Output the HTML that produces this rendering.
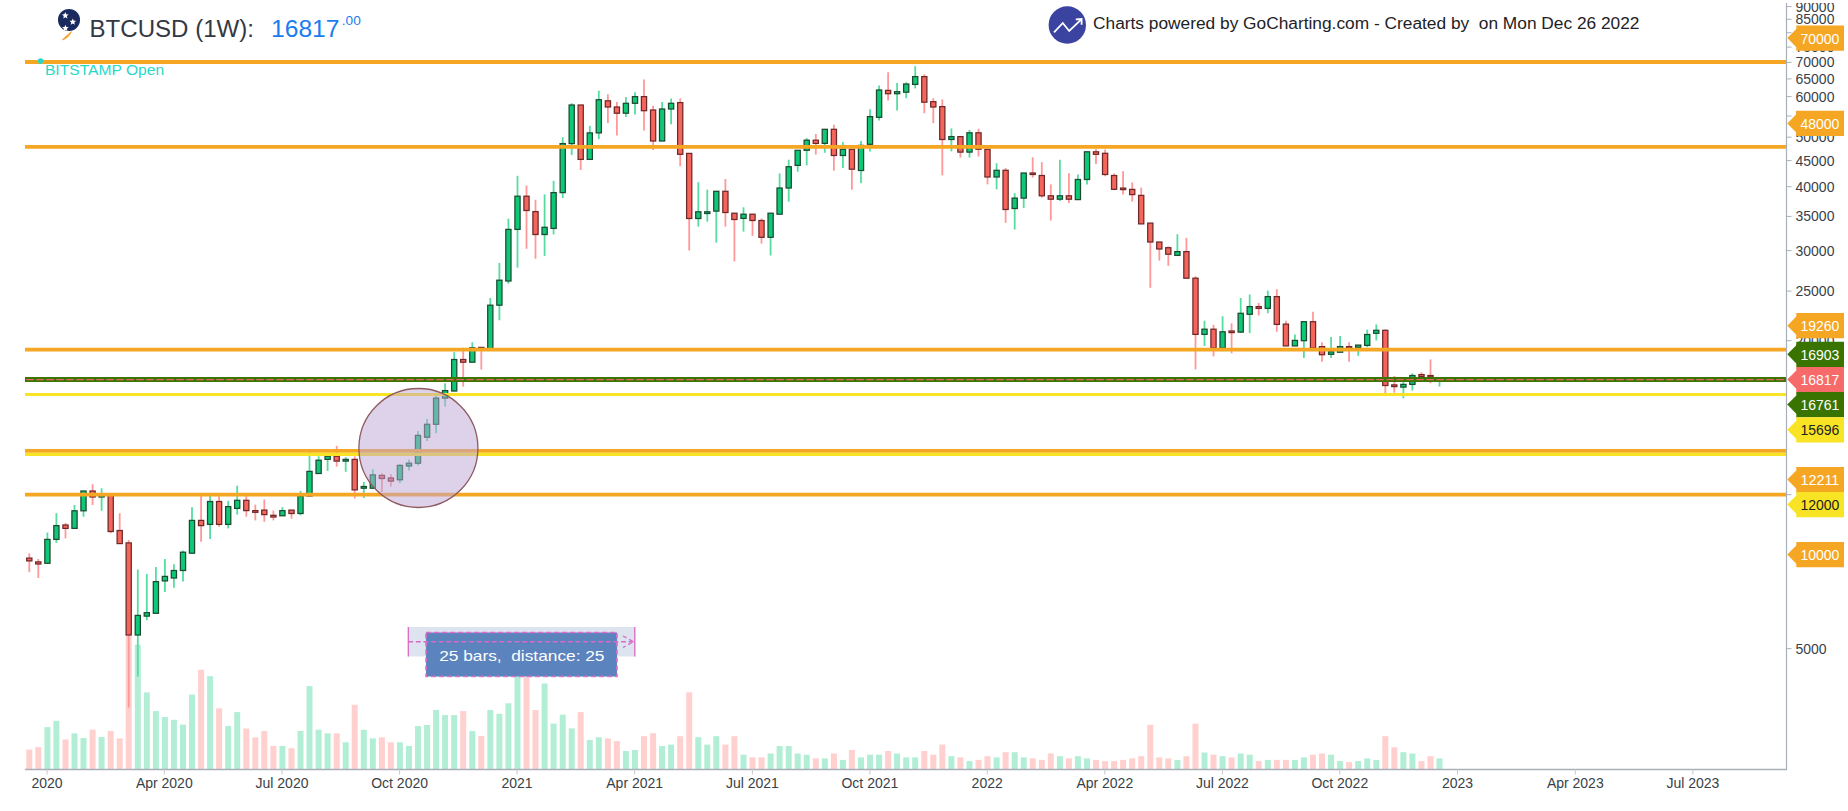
<!DOCTYPE html>
<html><head><meta charset="utf-8"><title>BTCUSD (1W) chart</title>
<style>
html,body{margin:0;padding:0;background:#ffffff;}
body{width:1848px;height:811px;overflow:hidden;}
svg{display:block;}
text{font-family:"Liberation Sans", Arial, sans-serif;white-space:pre;}
</style></head><body>
<svg width="1848" height="811" viewBox="0 0 1848 811">
<rect x="0" y="0" width="1848" height="811" fill="#ffffff"/>

<g id="vol">
<rect x="26.3" y="749.6" width="6" height="19.4" fill="#ffd0ce"/>
<rect x="35.3" y="747.1" width="6" height="21.9" fill="#ffd0ce"/>
<rect x="44.4" y="727.1" width="6" height="41.9" fill="#b2eed5"/>
<rect x="53.4" y="720.8" width="6" height="48.2" fill="#b2eed5"/>
<rect x="62.5" y="739.5" width="6" height="29.5" fill="#ffd0ce"/>
<rect x="71.5" y="733.4" width="6" height="35.6" fill="#b2eed5"/>
<rect x="80.5" y="738.0" width="6" height="31.0" fill="#b2eed5"/>
<rect x="89.6" y="729.6" width="6" height="39.4" fill="#ffd0ce"/>
<rect x="98.6" y="737.0" width="6" height="32.0" fill="#b2eed5"/>
<rect x="107.7" y="731.0" width="6" height="38.0" fill="#ffd0ce"/>
<rect x="116.7" y="738.4" width="6" height="30.6" fill="#ffd0ce"/>
<rect x="125.7" y="634.0" width="6" height="135.0" fill="#ffd0ce"/>
<rect x="134.8" y="644.7" width="6" height="124.3" fill="#b2eed5"/>
<rect x="143.8" y="692.4" width="6" height="76.6" fill="#b2eed5"/>
<rect x="152.9" y="711.1" width="6" height="57.9" fill="#b2eed5"/>
<rect x="161.9" y="717.1" width="6" height="51.9" fill="#b2eed5"/>
<rect x="170.9" y="719.8" width="6" height="49.2" fill="#b2eed5"/>
<rect x="180.0" y="724.6" width="6" height="44.4" fill="#b2eed5"/>
<rect x="189.0" y="694.6" width="6" height="74.4" fill="#b2eed5"/>
<rect x="198.1" y="669.7" width="6" height="99.3" fill="#ffd0ce"/>
<rect x="207.1" y="676.2" width="6" height="92.8" fill="#b2eed5"/>
<rect x="216.1" y="708.4" width="6" height="60.6" fill="#ffd0ce"/>
<rect x="225.2" y="726.1" width="6" height="42.9" fill="#b2eed5"/>
<rect x="234.2" y="712.1" width="6" height="56.9" fill="#b2eed5"/>
<rect x="243.3" y="728.5" width="6" height="40.5" fill="#ffd0ce"/>
<rect x="252.3" y="737.4" width="6" height="31.6" fill="#ffd0ce"/>
<rect x="261.3" y="731.0" width="6" height="38.0" fill="#ffd0ce"/>
<rect x="270.4" y="745.9" width="6" height="23.1" fill="#ffd0ce"/>
<rect x="279.4" y="745.9" width="6" height="23.1" fill="#b2eed5"/>
<rect x="288.5" y="748.2" width="6" height="20.8" fill="#ffd0ce"/>
<rect x="297.5" y="731.0" width="6" height="38.0" fill="#b2eed5"/>
<rect x="306.5" y="686.1" width="6" height="82.9" fill="#b2eed5"/>
<rect x="315.6" y="729.7" width="6" height="39.3" fill="#b2eed5"/>
<rect x="324.6" y="733.4" width="6" height="35.6" fill="#b2eed5"/>
<rect x="333.7" y="733.4" width="6" height="35.6" fill="#ffd0ce"/>
<rect x="342.7" y="742.3" width="6" height="26.7" fill="#b2eed5"/>
<rect x="351.7" y="704.8" width="6" height="64.2" fill="#ffd0ce"/>
<rect x="360.8" y="729.7" width="6" height="39.3" fill="#b2eed5"/>
<rect x="369.8" y="738.4" width="6" height="30.6" fill="#b2eed5"/>
<rect x="378.9" y="737.4" width="6" height="31.6" fill="#ffd0ce"/>
<rect x="387.9" y="742.3" width="6" height="26.7" fill="#ffd0ce"/>
<rect x="396.9" y="742.3" width="6" height="26.7" fill="#b2eed5"/>
<rect x="406.0" y="745.9" width="6" height="23.1" fill="#b2eed5"/>
<rect x="415.0" y="726.1" width="6" height="42.9" fill="#b2eed5"/>
<rect x="424.1" y="725.0" width="6" height="44.0" fill="#b2eed5"/>
<rect x="433.1" y="710.0" width="6" height="59.0" fill="#b2eed5"/>
<rect x="442.1" y="715.1" width="6" height="53.9" fill="#b2eed5"/>
<rect x="451.2" y="715.1" width="6" height="53.9" fill="#b2eed5"/>
<rect x="460.2" y="711.1" width="6" height="57.9" fill="#ffd0ce"/>
<rect x="469.3" y="731.1" width="6" height="37.9" fill="#b2eed5"/>
<rect x="478.3" y="736.0" width="6" height="33.0" fill="#ffd0ce"/>
<rect x="487.3" y="710.0" width="6" height="59.0" fill="#b2eed5"/>
<rect x="496.4" y="713.7" width="6" height="55.3" fill="#b2eed5"/>
<rect x="505.4" y="703.3" width="6" height="65.7" fill="#b2eed5"/>
<rect x="514.5" y="672.0" width="6" height="97.0" fill="#b2eed5"/>
<rect x="523.5" y="672.0" width="6" height="97.0" fill="#ffd0ce"/>
<rect x="532.5" y="710.0" width="6" height="59.0" fill="#ffd0ce"/>
<rect x="541.6" y="683.5" width="6" height="85.5" fill="#b2eed5"/>
<rect x="550.6" y="723.6" width="6" height="45.4" fill="#b2eed5"/>
<rect x="559.7" y="714.7" width="6" height="54.3" fill="#b2eed5"/>
<rect x="568.7" y="728.4" width="6" height="40.6" fill="#b2eed5"/>
<rect x="577.7" y="712.1" width="6" height="56.9" fill="#ffd0ce"/>
<rect x="586.8" y="739.9" width="6" height="29.1" fill="#b2eed5"/>
<rect x="595.8" y="737.2" width="6" height="31.8" fill="#b2eed5"/>
<rect x="604.9" y="738.4" width="6" height="30.6" fill="#ffd0ce"/>
<rect x="613.9" y="741.1" width="6" height="27.9" fill="#ffd0ce"/>
<rect x="622.9" y="751.0" width="6" height="18.0" fill="#b2eed5"/>
<rect x="632.0" y="750.0" width="6" height="19.0" fill="#b2eed5"/>
<rect x="641.0" y="736.2" width="6" height="32.8" fill="#ffd0ce"/>
<rect x="650.1" y="733.2" width="6" height="35.8" fill="#ffd0ce"/>
<rect x="659.1" y="746.1" width="6" height="22.9" fill="#b2eed5"/>
<rect x="668.1" y="744.6" width="6" height="24.4" fill="#b2eed5"/>
<rect x="677.2" y="736.2" width="6" height="32.8" fill="#ffd0ce"/>
<rect x="686.2" y="692.3" width="6" height="76.7" fill="#ffd0ce"/>
<rect x="695.3" y="737.2" width="6" height="31.8" fill="#b2eed5"/>
<rect x="704.3" y="744.6" width="6" height="24.4" fill="#b2eed5"/>
<rect x="713.3" y="736.2" width="6" height="32.8" fill="#b2eed5"/>
<rect x="722.4" y="744.6" width="6" height="24.4" fill="#ffd0ce"/>
<rect x="731.4" y="736.2" width="6" height="32.8" fill="#ffd0ce"/>
<rect x="740.5" y="754.7" width="6" height="14.3" fill="#b2eed5"/>
<rect x="749.5" y="757.4" width="6" height="11.6" fill="#ffd0ce"/>
<rect x="758.5" y="757.4" width="6" height="11.6" fill="#ffd0ce"/>
<rect x="767.6" y="753.5" width="6" height="15.5" fill="#b2eed5"/>
<rect x="776.6" y="746.1" width="6" height="22.9" fill="#b2eed5"/>
<rect x="785.7" y="746.1" width="6" height="22.9" fill="#b2eed5"/>
<rect x="794.7" y="753.5" width="6" height="15.5" fill="#b2eed5"/>
<rect x="803.7" y="754.7" width="6" height="14.3" fill="#b2eed5"/>
<rect x="812.8" y="758.4" width="6" height="10.6" fill="#ffd0ce"/>
<rect x="821.8" y="758.4" width="6" height="10.6" fill="#b2eed5"/>
<rect x="830.9" y="753.5" width="6" height="15.5" fill="#ffd0ce"/>
<rect x="839.9" y="759.9" width="6" height="9.1" fill="#b2eed5"/>
<rect x="848.9" y="750.0" width="6" height="19.0" fill="#ffd0ce"/>
<rect x="858.0" y="757.4" width="6" height="11.6" fill="#b2eed5"/>
<rect x="867.0" y="754.7" width="6" height="14.3" fill="#b2eed5"/>
<rect x="876.1" y="754.7" width="6" height="14.3" fill="#b2eed5"/>
<rect x="885.1" y="751.0" width="6" height="18.0" fill="#ffd0ce"/>
<rect x="894.1" y="753.5" width="6" height="15.5" fill="#b2eed5"/>
<rect x="903.2" y="757.4" width="6" height="11.6" fill="#b2eed5"/>
<rect x="912.2" y="757.4" width="6" height="11.6" fill="#b2eed5"/>
<rect x="921.3" y="751.0" width="6" height="18.0" fill="#ffd0ce"/>
<rect x="930.3" y="754.7" width="6" height="14.3" fill="#ffd0ce"/>
<rect x="939.3" y="744.6" width="6" height="24.4" fill="#ffd0ce"/>
<rect x="948.4" y="756.2" width="6" height="12.8" fill="#b2eed5"/>
<rect x="957.4" y="757.4" width="6" height="11.6" fill="#ffd0ce"/>
<rect x="966.5" y="761.1" width="6" height="7.9" fill="#b2eed5"/>
<rect x="975.5" y="759.9" width="6" height="9.1" fill="#ffd0ce"/>
<rect x="984.5" y="756.2" width="6" height="12.8" fill="#ffd0ce"/>
<rect x="993.6" y="757.4" width="6" height="11.6" fill="#b2eed5"/>
<rect x="1002.6" y="752.2" width="6" height="16.8" fill="#ffd0ce"/>
<rect x="1011.7" y="752.2" width="6" height="16.8" fill="#b2eed5"/>
<rect x="1020.7" y="757.4" width="6" height="11.6" fill="#b2eed5"/>
<rect x="1029.7" y="758.4" width="6" height="10.6" fill="#ffd0ce"/>
<rect x="1038.8" y="759.9" width="6" height="9.1" fill="#ffd0ce"/>
<rect x="1047.8" y="753.5" width="6" height="15.5" fill="#ffd0ce"/>
<rect x="1056.9" y="756.2" width="6" height="12.8" fill="#b2eed5"/>
<rect x="1065.9" y="758.4" width="6" height="10.6" fill="#ffd0ce"/>
<rect x="1074.9" y="756.2" width="6" height="12.8" fill="#b2eed5"/>
<rect x="1084.0" y="758.4" width="6" height="10.6" fill="#b2eed5"/>
<rect x="1093.0" y="759.9" width="6" height="9.1" fill="#ffd0ce"/>
<rect x="1102.1" y="761.1" width="6" height="7.9" fill="#ffd0ce"/>
<rect x="1111.1" y="761.1" width="6" height="7.9" fill="#ffd0ce"/>
<rect x="1120.1" y="759.9" width="6" height="9.1" fill="#ffd0ce"/>
<rect x="1129.2" y="758.4" width="6" height="10.6" fill="#ffd0ce"/>
<rect x="1138.2" y="756.2" width="6" height="12.8" fill="#ffd0ce"/>
<rect x="1147.3" y="724.8" width="6" height="44.2" fill="#ffd0ce"/>
<rect x="1156.3" y="757.4" width="6" height="11.6" fill="#ffd0ce"/>
<rect x="1165.3" y="758.4" width="6" height="10.6" fill="#ffd0ce"/>
<rect x="1174.4" y="759.9" width="6" height="9.1" fill="#b2eed5"/>
<rect x="1183.4" y="756.2" width="6" height="12.8" fill="#ffd0ce"/>
<rect x="1192.5" y="723.6" width="6" height="45.4" fill="#ffd0ce"/>
<rect x="1201.5" y="752.5" width="6" height="16.5" fill="#b2eed5"/>
<rect x="1210.5" y="754.7" width="6" height="14.3" fill="#ffd0ce"/>
<rect x="1219.6" y="756.2" width="6" height="12.8" fill="#b2eed5"/>
<rect x="1228.6" y="757.4" width="6" height="11.6" fill="#ffd0ce"/>
<rect x="1237.7" y="753.5" width="6" height="15.5" fill="#b2eed5"/>
<rect x="1246.7" y="754.7" width="6" height="14.3" fill="#b2eed5"/>
<rect x="1255.7" y="761.1" width="6" height="7.9" fill="#ffd0ce"/>
<rect x="1264.8" y="759.9" width="6" height="9.1" fill="#b2eed5"/>
<rect x="1273.8" y="759.9" width="6" height="9.1" fill="#ffd0ce"/>
<rect x="1282.9" y="759.9" width="6" height="9.1" fill="#ffd0ce"/>
<rect x="1291.9" y="759.9" width="6" height="9.1" fill="#b2eed5"/>
<rect x="1300.9" y="757.4" width="6" height="11.6" fill="#b2eed5"/>
<rect x="1310.0" y="754.7" width="6" height="14.3" fill="#ffd0ce"/>
<rect x="1319.0" y="753.5" width="6" height="15.5" fill="#ffd0ce"/>
<rect x="1328.1" y="754.7" width="6" height="14.3" fill="#b2eed5"/>
<rect x="1337.1" y="761.1" width="6" height="7.9" fill="#b2eed5"/>
<rect x="1346.1" y="762.1" width="6" height="6.9" fill="#ffd0ce"/>
<rect x="1355.2" y="761.1" width="6" height="7.9" fill="#b2eed5"/>
<rect x="1364.2" y="758.4" width="6" height="10.6" fill="#b2eed5"/>
<rect x="1373.3" y="759.9" width="6" height="9.1" fill="#b2eed5"/>
<rect x="1382.3" y="736.2" width="6" height="32.8" fill="#ffd0ce"/>
<rect x="1391.3" y="747.3" width="6" height="21.7" fill="#ffd0ce"/>
<rect x="1400.4" y="752.2" width="6" height="16.8" fill="#b2eed5"/>
<rect x="1409.4" y="753.5" width="6" height="15.5" fill="#b2eed5"/>
<rect x="1418.5" y="761.1" width="6" height="7.9" fill="#ffd0ce"/>
<rect x="1427.5" y="756.2" width="6" height="12.8" fill="#ffd0ce"/>
<rect x="1436.5" y="758.4" width="6" height="10.6" fill="#b2eed5"/>
</g>
<g id="candles">
<line x1="29.3" y1="553.3" x2="29.3" y2="572.2" stroke="#ff9898" stroke-width="1.8"/>
<rect x="26.7" y="558.1" width="5.2" height="2.8" fill="#f5655b" stroke="#6e2828" stroke-width="1.25"/>
<line x1="38.3" y1="559.0" x2="38.3" y2="578.0" stroke="#ff9898" stroke-width="1.8"/>
<rect x="35.7" y="561.9" width="5.2" height="2.1" fill="#f5655b" stroke="#6e2828" stroke-width="1.25"/>
<line x1="47.4" y1="532.5" x2="47.4" y2="563.3" stroke="#55dda0" stroke-width="1.8"/>
<rect x="44.8" y="539.4" width="5.2" height="23.9" fill="#0cc877" stroke="#1b4a30" stroke-width="1.25"/>
<line x1="56.4" y1="513.2" x2="56.4" y2="542.9" stroke="#55dda0" stroke-width="1.8"/>
<rect x="53.8" y="525.6" width="5.2" height="13.8" fill="#0cc877" stroke="#1b4a30" stroke-width="1.25"/>
<line x1="65.5" y1="522.9" x2="65.5" y2="538.4" stroke="#ff9898" stroke-width="1.8"/>
<rect x="62.9" y="525.0" width="5.2" height="3.4" fill="#f5655b" stroke="#6e2828" stroke-width="1.25"/>
<line x1="74.5" y1="505.0" x2="74.5" y2="528.4" stroke="#55dda0" stroke-width="1.8"/>
<rect x="71.9" y="510.8" width="5.2" height="17.6" fill="#0cc877" stroke="#1b4a30" stroke-width="1.25"/>
<line x1="83.5" y1="491.0" x2="83.5" y2="516.7" stroke="#55dda0" stroke-width="1.8"/>
<rect x="80.9" y="491.0" width="5.2" height="19.8" fill="#0cc877" stroke="#1b4a30" stroke-width="1.25"/>
<line x1="92.6" y1="484.2" x2="92.6" y2="505.0" stroke="#ff9898" stroke-width="1.8"/>
<rect x="90.0" y="491.0" width="5.2" height="6.0" fill="#f5655b" stroke="#6e2828" stroke-width="1.25"/>
<line x1="101.6" y1="488.3" x2="101.6" y2="510.8" stroke="#55dda0" stroke-width="1.8"/>
<rect x="99.0" y="495.0" width="5.2" height="2.0" fill="#0cc877" stroke="#1b4a30" stroke-width="1.25"/>
<line x1="110.7" y1="495.0" x2="110.7" y2="533.2" stroke="#ff9898" stroke-width="1.8"/>
<rect x="108.1" y="495.0" width="5.2" height="36.5" fill="#f5655b" stroke="#6e2828" stroke-width="1.25"/>
<line x1="119.7" y1="513.2" x2="119.7" y2="543.6" stroke="#ff9898" stroke-width="1.8"/>
<rect x="117.1" y="530.5" width="5.2" height="13.1" fill="#f5655b" stroke="#6e2828" stroke-width="1.25"/>
<line x1="128.7" y1="540.0" x2="128.7" y2="707.6" stroke="#ff9898" stroke-width="1.8"/>
<rect x="126.1" y="542.9" width="5.2" height="92.1" fill="#f5655b" stroke="#6e2828" stroke-width="1.25"/>
<line x1="137.8" y1="569.5" x2="137.8" y2="676.5" stroke="#55dda0" stroke-width="1.8"/>
<rect x="135.2" y="615.4" width="5.2" height="19.6" fill="#0cc877" stroke="#1b4a30" stroke-width="1.25"/>
<line x1="146.8" y1="574.0" x2="146.8" y2="620.2" stroke="#55dda0" stroke-width="1.8"/>
<rect x="144.2" y="612.7" width="5.2" height="3.4" fill="#0cc877" stroke="#1b4a30" stroke-width="1.25"/>
<line x1="155.9" y1="567.0" x2="155.9" y2="613.3" stroke="#55dda0" stroke-width="1.8"/>
<rect x="153.3" y="581.6" width="5.2" height="31.7" fill="#0cc877" stroke="#1b4a30" stroke-width="1.25"/>
<line x1="164.9" y1="559.0" x2="164.9" y2="592.0" stroke="#55dda0" stroke-width="1.8"/>
<rect x="162.3" y="576.4" width="5.2" height="4.5" fill="#0cc877" stroke="#1b4a30" stroke-width="1.25"/>
<line x1="173.9" y1="564.3" x2="173.9" y2="587.8" stroke="#55dda0" stroke-width="1.8"/>
<rect x="171.3" y="570.5" width="5.2" height="7.5" fill="#0cc877" stroke="#1b4a30" stroke-width="1.25"/>
<line x1="183.0" y1="550.5" x2="183.0" y2="581.6" stroke="#55dda0" stroke-width="1.8"/>
<rect x="180.4" y="552.2" width="5.2" height="18.3" fill="#0cc877" stroke="#1b4a30" stroke-width="1.25"/>
<line x1="192.0" y1="507.2" x2="192.0" y2="553.8" stroke="#55dda0" stroke-width="1.8"/>
<rect x="189.4" y="520.4" width="5.2" height="32.8" fill="#0cc877" stroke="#1b4a30" stroke-width="1.25"/>
<line x1="201.1" y1="496.0" x2="201.1" y2="541.7" stroke="#ff9898" stroke-width="1.8"/>
<rect x="198.5" y="520.4" width="5.2" height="5.2" fill="#f5655b" stroke="#6e2828" stroke-width="1.25"/>
<line x1="210.1" y1="496.0" x2="210.1" y2="539.0" stroke="#55dda0" stroke-width="1.8"/>
<rect x="207.5" y="501.5" width="5.2" height="22.9" fill="#0cc877" stroke="#1b4a30" stroke-width="1.25"/>
<line x1="219.1" y1="496.0" x2="219.1" y2="526.7" stroke="#ff9898" stroke-width="1.8"/>
<rect x="216.5" y="501.5" width="5.2" height="22.9" fill="#f5655b" stroke="#6e2828" stroke-width="1.25"/>
<line x1="228.2" y1="500.8" x2="228.2" y2="528.4" stroke="#55dda0" stroke-width="1.8"/>
<rect x="225.6" y="506.6" width="5.2" height="17.8" fill="#0cc877" stroke="#1b4a30" stroke-width="1.25"/>
<line x1="237.2" y1="485.6" x2="237.2" y2="514.6" stroke="#55dda0" stroke-width="1.8"/>
<rect x="234.6" y="500.3" width="5.2" height="8.1" fill="#0cc877" stroke="#1b4a30" stroke-width="1.25"/>
<line x1="246.3" y1="496.0" x2="246.3" y2="516.7" stroke="#ff9898" stroke-width="1.8"/>
<rect x="243.7" y="500.3" width="5.2" height="10.3" fill="#f5655b" stroke="#6e2828" stroke-width="1.25"/>
<line x1="255.3" y1="504.6" x2="255.3" y2="520.4" stroke="#ff9898" stroke-width="1.8"/>
<rect x="252.7" y="510.6" width="5.2" height="1.7" fill="#f5655b" stroke="#6e2828" stroke-width="1.25"/>
<line x1="264.3" y1="499.4" x2="264.3" y2="521.8" stroke="#ff9898" stroke-width="1.8"/>
<rect x="261.7" y="510.1" width="5.2" height="4.5" fill="#f5655b" stroke="#6e2828" stroke-width="1.25"/>
<line x1="273.4" y1="510.6" x2="273.4" y2="520.4" stroke="#ff9898" stroke-width="1.8"/>
<rect x="270.8" y="515.3" width="5.2" height="1.7" fill="#f5655b" stroke="#6e2828" stroke-width="1.25"/>
<line x1="282.4" y1="507.2" x2="282.4" y2="515.8" stroke="#55dda0" stroke-width="1.8"/>
<rect x="279.8" y="510.6" width="5.2" height="5.2" fill="#0cc877" stroke="#1b4a30" stroke-width="1.25"/>
<line x1="291.5" y1="510.1" x2="291.5" y2="518.7" stroke="#ff9898" stroke-width="1.8"/>
<rect x="288.9" y="510.1" width="5.2" height="3.4" fill="#f5655b" stroke="#6e2828" stroke-width="1.25"/>
<line x1="300.5" y1="490.8" x2="300.5" y2="515.3" stroke="#55dda0" stroke-width="1.8"/>
<rect x="297.9" y="496.0" width="5.2" height="17.5" fill="#0cc877" stroke="#1b4a30" stroke-width="1.25"/>
<line x1="309.5" y1="452.0" x2="309.5" y2="496.0" stroke="#55dda0" stroke-width="1.8"/>
<rect x="306.9" y="471.4" width="5.2" height="24.6" fill="#0cc877" stroke="#1b4a30" stroke-width="1.25"/>
<line x1="318.6" y1="456.2" x2="318.6" y2="473.5" stroke="#55dda0" stroke-width="1.8"/>
<rect x="316.0" y="460.2" width="5.2" height="13.3" fill="#0cc877" stroke="#1b4a30" stroke-width="1.25"/>
<line x1="327.6" y1="452.8" x2="327.6" y2="470.9" stroke="#55dda0" stroke-width="1.8"/>
<rect x="325.0" y="456.2" width="5.2" height="3.2" fill="#0cc877" stroke="#1b4a30" stroke-width="1.25"/>
<line x1="336.7" y1="445.9" x2="336.7" y2="466.6" stroke="#ff9898" stroke-width="1.8"/>
<rect x="334.1" y="456.2" width="5.2" height="4.9" fill="#f5655b" stroke="#6e2828" stroke-width="1.25"/>
<line x1="345.7" y1="457.0" x2="345.7" y2="471.8" stroke="#55dda0" stroke-width="1.8"/>
<rect x="343.1" y="459.4" width="5.2" height="1.7" fill="#0cc877" stroke="#1b4a30" stroke-width="1.25"/>
<line x1="354.7" y1="456.2" x2="354.7" y2="498.5" stroke="#ff9898" stroke-width="1.8"/>
<rect x="352.1" y="459.4" width="5.2" height="30.5" fill="#f5655b" stroke="#6e2828" stroke-width="1.25"/>
<line x1="363.8" y1="482.0" x2="363.8" y2="498.0" stroke="#55dda0" stroke-width="1.8"/>
<rect x="361.2" y="486.5" width="5.2" height="1.7" fill="#0cc877" stroke="#1b4a30" stroke-width="1.25"/>
<line x1="372.8" y1="469.2" x2="372.8" y2="489.1" stroke="#55dda0" stroke-width="1.8"/>
<rect x="370.2" y="474.9" width="5.2" height="13.3" fill="#0cc877" stroke="#1b4a30" stroke-width="1.25"/>
<line x1="381.9" y1="473.2" x2="381.9" y2="492.0" stroke="#ff9898" stroke-width="1.8"/>
<rect x="379.3" y="475.4" width="5.2" height="3.1" fill="#f5655b" stroke="#6e2828" stroke-width="1.25"/>
<line x1="390.9" y1="474.3" x2="390.9" y2="486.5" stroke="#ff9898" stroke-width="1.8"/>
<rect x="388.3" y="478.0" width="5.2" height="3.1" fill="#f5655b" stroke="#6e2828" stroke-width="1.25"/>
<line x1="399.9" y1="464.3" x2="399.9" y2="483.1" stroke="#55dda0" stroke-width="1.8"/>
<rect x="397.3" y="465.4" width="5.2" height="14.4" fill="#0cc877" stroke="#1b4a30" stroke-width="1.25"/>
<line x1="409.0" y1="459.4" x2="409.0" y2="470.5" stroke="#55dda0" stroke-width="1.8"/>
<rect x="406.4" y="463.2" width="5.2" height="2.8" fill="#0cc877" stroke="#1b4a30" stroke-width="1.25"/>
<line x1="418.0" y1="431.0" x2="418.0" y2="465.4" stroke="#55dda0" stroke-width="1.8"/>
<rect x="415.4" y="435.4" width="5.2" height="27.8" fill="#0cc877" stroke="#1b4a30" stroke-width="1.25"/>
<line x1="427.1" y1="418.8" x2="427.1" y2="441.0" stroke="#55dda0" stroke-width="1.8"/>
<rect x="424.5" y="424.3" width="5.2" height="12.9" fill="#0cc877" stroke="#1b4a30" stroke-width="1.25"/>
<line x1="436.1" y1="392.8" x2="436.1" y2="433.2" stroke="#55dda0" stroke-width="1.8"/>
<rect x="433.5" y="398.1" width="5.2" height="26.2" fill="#0cc877" stroke="#1b4a30" stroke-width="1.25"/>
<line x1="445.1" y1="383.3" x2="445.1" y2="406.6" stroke="#55dda0" stroke-width="1.8"/>
<rect x="442.5" y="390.6" width="5.2" height="7.5" fill="#0cc877" stroke="#1b4a30" stroke-width="1.25"/>
<line x1="454.2" y1="352.2" x2="454.2" y2="391.5" stroke="#55dda0" stroke-width="1.8"/>
<rect x="451.6" y="359.5" width="5.2" height="31.5" fill="#0cc877" stroke="#1b4a30" stroke-width="1.25"/>
<line x1="463.2" y1="347.8" x2="463.2" y2="386.6" stroke="#ff9898" stroke-width="1.8"/>
<rect x="460.6" y="359.5" width="5.2" height="2.7" fill="#f5655b" stroke="#6e2828" stroke-width="1.25"/>
<line x1="472.3" y1="342.2" x2="472.3" y2="362.2" stroke="#55dda0" stroke-width="1.8"/>
<rect x="469.7" y="347.8" width="5.2" height="14.4" fill="#0cc877" stroke="#1b4a30" stroke-width="1.25"/>
<line x1="481.3" y1="347.4" x2="481.3" y2="369.6" stroke="#ff9898" stroke-width="1.8"/>
<rect x="478.7" y="347.4" width="5.2" height="2.6" fill="#f5655b" stroke="#6e2828" stroke-width="1.25"/>
<line x1="490.3" y1="298.0" x2="490.3" y2="350.0" stroke="#55dda0" stroke-width="1.8"/>
<rect x="487.7" y="305.2" width="5.2" height="44.8" fill="#0cc877" stroke="#1b4a30" stroke-width="1.25"/>
<line x1="499.4" y1="263.0" x2="499.4" y2="320.3" stroke="#55dda0" stroke-width="1.8"/>
<rect x="496.8" y="280.2" width="5.2" height="25.0" fill="#0cc877" stroke="#1b4a30" stroke-width="1.25"/>
<line x1="508.4" y1="218.7" x2="508.4" y2="283.8" stroke="#55dda0" stroke-width="1.8"/>
<rect x="505.8" y="229.4" width="5.2" height="51.6" fill="#0cc877" stroke="#1b4a30" stroke-width="1.25"/>
<line x1="517.5" y1="175.8" x2="517.5" y2="267.7" stroke="#55dda0" stroke-width="1.8"/>
<rect x="514.9" y="196.2" width="5.2" height="33.2" fill="#0cc877" stroke="#1b4a30" stroke-width="1.25"/>
<line x1="526.5" y1="185.5" x2="526.5" y2="248.8" stroke="#ff9898" stroke-width="1.8"/>
<rect x="523.9" y="196.2" width="5.2" height="14.3" fill="#f5655b" stroke="#6e2828" stroke-width="1.25"/>
<line x1="535.5" y1="199.8" x2="535.5" y2="258.8" stroke="#ff9898" stroke-width="1.8"/>
<rect x="532.9" y="211.6" width="5.2" height="22.9" fill="#f5655b" stroke="#6e2828" stroke-width="1.25"/>
<line x1="544.6" y1="194.4" x2="544.6" y2="255.9" stroke="#55dda0" stroke-width="1.8"/>
<rect x="542.0" y="227.3" width="5.2" height="7.2" fill="#0cc877" stroke="#1b4a30" stroke-width="1.25"/>
<line x1="553.6" y1="180.8" x2="553.6" y2="234.5" stroke="#55dda0" stroke-width="1.8"/>
<rect x="551.0" y="192.6" width="5.2" height="35.8" fill="#0cc877" stroke="#1b4a30" stroke-width="1.25"/>
<line x1="562.7" y1="137.2" x2="562.7" y2="198.0" stroke="#55dda0" stroke-width="1.8"/>
<rect x="560.1" y="143.6" width="5.2" height="49.0" fill="#0cc877" stroke="#1b4a30" stroke-width="1.25"/>
<line x1="571.7" y1="103.2" x2="571.7" y2="155.0" stroke="#55dda0" stroke-width="1.8"/>
<rect x="569.1" y="105.0" width="5.2" height="38.6" fill="#0cc877" stroke="#1b4a30" stroke-width="1.25"/>
<line x1="580.7" y1="105.0" x2="580.7" y2="170.0" stroke="#ff9898" stroke-width="1.8"/>
<rect x="578.1" y="105.0" width="5.2" height="54.4" fill="#f5655b" stroke="#6e2828" stroke-width="1.25"/>
<line x1="589.8" y1="125.8" x2="589.8" y2="159.4" stroke="#55dda0" stroke-width="1.8"/>
<rect x="587.2" y="132.9" width="5.2" height="26.5" fill="#0cc877" stroke="#1b4a30" stroke-width="1.25"/>
<line x1="598.8" y1="90.7" x2="598.8" y2="139.0" stroke="#55dda0" stroke-width="1.8"/>
<rect x="596.2" y="99.7" width="5.2" height="33.2" fill="#0cc877" stroke="#1b4a30" stroke-width="1.25"/>
<line x1="607.9" y1="94.2" x2="607.9" y2="123.0" stroke="#ff9898" stroke-width="1.8"/>
<rect x="605.3" y="100.8" width="5.2" height="6.2" fill="#f5655b" stroke="#6e2828" stroke-width="1.25"/>
<line x1="616.9" y1="102.0" x2="616.9" y2="135.4" stroke="#ff9898" stroke-width="1.8"/>
<rect x="614.3" y="107.0" width="5.2" height="6.2" fill="#f5655b" stroke="#6e2828" stroke-width="1.25"/>
<line x1="625.9" y1="97.1" x2="625.9" y2="116.9" stroke="#55dda0" stroke-width="1.8"/>
<rect x="623.3" y="103.3" width="5.2" height="9.9" fill="#0cc877" stroke="#1b4a30" stroke-width="1.25"/>
<line x1="635.0" y1="92.2" x2="635.0" y2="114.4" stroke="#55dda0" stroke-width="1.8"/>
<rect x="632.4" y="96.6" width="5.2" height="6.7" fill="#0cc877" stroke="#1b4a30" stroke-width="1.25"/>
<line x1="644.0" y1="79.4" x2="644.0" y2="130.4" stroke="#ff9898" stroke-width="1.8"/>
<rect x="641.4" y="96.6" width="5.2" height="14.1" fill="#f5655b" stroke="#6e2828" stroke-width="1.25"/>
<line x1="653.1" y1="105.8" x2="653.1" y2="150.1" stroke="#ff9898" stroke-width="1.8"/>
<rect x="650.5" y="110.0" width="5.2" height="31.0" fill="#f5655b" stroke="#6e2828" stroke-width="1.25"/>
<line x1="662.1" y1="102.0" x2="662.1" y2="141.0" stroke="#55dda0" stroke-width="1.8"/>
<rect x="659.5" y="109.0" width="5.2" height="32.0" fill="#0cc877" stroke="#1b4a30" stroke-width="1.25"/>
<line x1="671.1" y1="98.4" x2="671.1" y2="124.3" stroke="#55dda0" stroke-width="1.8"/>
<rect x="668.5" y="103.3" width="5.2" height="5.7" fill="#0cc877" stroke="#1b4a30" stroke-width="1.25"/>
<line x1="680.2" y1="98.4" x2="680.2" y2="166.2" stroke="#ff9898" stroke-width="1.8"/>
<rect x="677.6" y="102.6" width="5.2" height="51.7" fill="#f5655b" stroke="#6e2828" stroke-width="1.25"/>
<line x1="689.2" y1="153.4" x2="689.2" y2="250.5" stroke="#ff9898" stroke-width="1.8"/>
<rect x="686.6" y="153.4" width="5.2" height="65.1" fill="#f5655b" stroke="#6e2828" stroke-width="1.25"/>
<line x1="698.3" y1="182.2" x2="698.3" y2="226.6" stroke="#55dda0" stroke-width="1.8"/>
<rect x="695.7" y="211.8" width="5.2" height="6.7" fill="#0cc877" stroke="#1b4a30" stroke-width="1.25"/>
<line x1="707.3" y1="189.6" x2="707.3" y2="221.7" stroke="#55dda0" stroke-width="1.8"/>
<rect x="704.7" y="211.8" width="5.2" height="1.7" fill="#0cc877" stroke="#1b4a30" stroke-width="1.25"/>
<line x1="716.3" y1="191.3" x2="716.3" y2="242.6" stroke="#55dda0" stroke-width="1.8"/>
<rect x="713.7" y="191.3" width="5.2" height="19.8" fill="#0cc877" stroke="#1b4a30" stroke-width="1.25"/>
<line x1="725.4" y1="179.0" x2="725.4" y2="226.6" stroke="#ff9898" stroke-width="1.8"/>
<rect x="722.8" y="191.3" width="5.2" height="21.2" fill="#f5655b" stroke="#6e2828" stroke-width="1.25"/>
<line x1="734.4" y1="213.2" x2="734.4" y2="261.4" stroke="#ff9898" stroke-width="1.8"/>
<rect x="731.8" y="213.2" width="5.2" height="6.3" fill="#f5655b" stroke="#6e2828" stroke-width="1.25"/>
<line x1="743.5" y1="207.3" x2="743.5" y2="231.6" stroke="#55dda0" stroke-width="1.8"/>
<rect x="740.9" y="214.2" width="5.2" height="4.2" fill="#0cc877" stroke="#1b4a30" stroke-width="1.25"/>
<line x1="752.5" y1="214.2" x2="752.5" y2="235.8" stroke="#ff9898" stroke-width="1.8"/>
<rect x="749.9" y="214.2" width="5.2" height="6.3" fill="#f5655b" stroke="#6e2828" stroke-width="1.25"/>
<line x1="761.5" y1="218.4" x2="761.5" y2="243.6" stroke="#ff9898" stroke-width="1.8"/>
<rect x="758.9" y="220.5" width="5.2" height="16.8" fill="#f5655b" stroke="#6e2828" stroke-width="1.25"/>
<line x1="770.6" y1="213.2" x2="770.6" y2="255.5" stroke="#55dda0" stroke-width="1.8"/>
<rect x="768.0" y="213.2" width="5.2" height="24.1" fill="#0cc877" stroke="#1b4a30" stroke-width="1.25"/>
<line x1="779.6" y1="173.4" x2="779.6" y2="214.2" stroke="#55dda0" stroke-width="1.8"/>
<rect x="777.0" y="188.0" width="5.2" height="26.2" fill="#0cc877" stroke="#1b4a30" stroke-width="1.25"/>
<line x1="788.7" y1="159.7" x2="788.7" y2="201.7" stroke="#55dda0" stroke-width="1.8"/>
<rect x="786.1" y="166.7" width="5.2" height="21.3" fill="#0cc877" stroke="#1b4a30" stroke-width="1.25"/>
<line x1="797.7" y1="150.3" x2="797.7" y2="171.7" stroke="#55dda0" stroke-width="1.8"/>
<rect x="795.1" y="150.3" width="5.2" height="15.1" fill="#0cc877" stroke="#1b4a30" stroke-width="1.25"/>
<line x1="806.7" y1="138.1" x2="806.7" y2="165.4" stroke="#55dda0" stroke-width="1.8"/>
<rect x="804.1" y="140.2" width="5.2" height="10.1" fill="#0cc877" stroke="#1b4a30" stroke-width="1.25"/>
<line x1="815.8" y1="134.0" x2="815.8" y2="154.5" stroke="#ff9898" stroke-width="1.8"/>
<rect x="813.2" y="140.2" width="5.2" height="3.2" fill="#f5655b" stroke="#6e2828" stroke-width="1.25"/>
<line x1="824.8" y1="129.3" x2="824.8" y2="152.8" stroke="#55dda0" stroke-width="1.8"/>
<rect x="822.2" y="129.3" width="5.2" height="14.1" fill="#0cc877" stroke="#1b4a30" stroke-width="1.25"/>
<line x1="833.9" y1="124.7" x2="833.9" y2="170.8" stroke="#ff9898" stroke-width="1.8"/>
<rect x="831.3" y="129.3" width="5.2" height="26.2" fill="#f5655b" stroke="#6e2828" stroke-width="1.25"/>
<line x1="842.9" y1="141.9" x2="842.9" y2="168.1" stroke="#55dda0" stroke-width="1.8"/>
<rect x="840.3" y="149.3" width="5.2" height="6.2" fill="#0cc877" stroke="#1b4a30" stroke-width="1.25"/>
<line x1="851.9" y1="149.3" x2="851.9" y2="189.7" stroke="#ff9898" stroke-width="1.8"/>
<rect x="849.3" y="149.3" width="5.2" height="19.9" fill="#f5655b" stroke="#6e2828" stroke-width="1.25"/>
<line x1="861.0" y1="141.0" x2="861.0" y2="183.2" stroke="#55dda0" stroke-width="1.8"/>
<rect x="858.4" y="145.4" width="5.2" height="25.1" fill="#0cc877" stroke="#1b4a30" stroke-width="1.25"/>
<line x1="870.0" y1="109.3" x2="870.0" y2="151.4" stroke="#55dda0" stroke-width="1.8"/>
<rect x="867.4" y="116.6" width="5.2" height="27.7" fill="#0cc877" stroke="#1b4a30" stroke-width="1.25"/>
<line x1="879.1" y1="85.5" x2="879.1" y2="120.4" stroke="#55dda0" stroke-width="1.8"/>
<rect x="876.5" y="90.0" width="5.2" height="27.3" fill="#0cc877" stroke="#1b4a30" stroke-width="1.25"/>
<line x1="888.1" y1="72.2" x2="888.1" y2="100.4" stroke="#ff9898" stroke-width="1.8"/>
<rect x="885.5" y="90.4" width="5.2" height="3.3" fill="#f5655b" stroke="#6e2828" stroke-width="1.25"/>
<line x1="897.1" y1="82.9" x2="897.1" y2="110.6" stroke="#55dda0" stroke-width="1.8"/>
<rect x="894.5" y="91.7" width="5.2" height="2.0" fill="#0cc877" stroke="#1b4a30" stroke-width="1.25"/>
<line x1="906.2" y1="82.2" x2="906.2" y2="98.2" stroke="#55dda0" stroke-width="1.8"/>
<rect x="903.6" y="84.0" width="5.2" height="8.2" fill="#0cc877" stroke="#1b4a30" stroke-width="1.25"/>
<line x1="915.2" y1="66.2" x2="915.2" y2="88.4" stroke="#55dda0" stroke-width="1.8"/>
<rect x="912.6" y="76.6" width="5.2" height="7.8" fill="#0cc877" stroke="#1b4a30" stroke-width="1.25"/>
<line x1="924.3" y1="74.4" x2="924.3" y2="113.3" stroke="#ff9898" stroke-width="1.8"/>
<rect x="921.7" y="76.6" width="5.2" height="25.6" fill="#f5655b" stroke="#6e2828" stroke-width="1.25"/>
<line x1="933.3" y1="98.2" x2="933.3" y2="123.2" stroke="#ff9898" stroke-width="1.8"/>
<rect x="930.7" y="101.7" width="5.2" height="5.3" fill="#f5655b" stroke="#6e2828" stroke-width="1.25"/>
<line x1="942.3" y1="99.5" x2="942.3" y2="175.4" stroke="#ff9898" stroke-width="1.8"/>
<rect x="939.7" y="106.6" width="5.2" height="32.9" fill="#f5655b" stroke="#6e2828" stroke-width="1.25"/>
<line x1="951.4" y1="128.4" x2="951.4" y2="151.4" stroke="#55dda0" stroke-width="1.8"/>
<rect x="948.8" y="136.6" width="5.2" height="2.9" fill="#0cc877" stroke="#1b4a30" stroke-width="1.25"/>
<line x1="960.4" y1="136.6" x2="960.4" y2="157.6" stroke="#ff9898" stroke-width="1.8"/>
<rect x="957.8" y="136.6" width="5.2" height="15.5" fill="#f5655b" stroke="#6e2828" stroke-width="1.25"/>
<line x1="969.5" y1="129.9" x2="969.5" y2="157.6" stroke="#55dda0" stroke-width="1.8"/>
<rect x="966.9" y="132.8" width="5.2" height="19.3" fill="#0cc877" stroke="#1b4a30" stroke-width="1.25"/>
<line x1="978.5" y1="128.8" x2="978.5" y2="156.5" stroke="#ff9898" stroke-width="1.8"/>
<rect x="975.9" y="132.8" width="5.2" height="16.4" fill="#f5655b" stroke="#6e2828" stroke-width="1.25"/>
<line x1="987.5" y1="149.3" x2="987.5" y2="184.4" stroke="#ff9898" stroke-width="1.8"/>
<rect x="984.9" y="149.3" width="5.2" height="27.7" fill="#f5655b" stroke="#6e2828" stroke-width="1.25"/>
<line x1="996.6" y1="163.2" x2="996.6" y2="189.3" stroke="#55dda0" stroke-width="1.8"/>
<rect x="994.0" y="170.3" width="5.2" height="6.7" fill="#0cc877" stroke="#1b4a30" stroke-width="1.25"/>
<line x1="1005.6" y1="168.1" x2="1005.6" y2="222.8" stroke="#ff9898" stroke-width="1.8"/>
<rect x="1003.0" y="170.3" width="5.2" height="39.2" fill="#f5655b" stroke="#6e2828" stroke-width="1.25"/>
<line x1="1014.7" y1="193.2" x2="1014.7" y2="229.5" stroke="#55dda0" stroke-width="1.8"/>
<rect x="1012.1" y="198.1" width="5.2" height="10.4" fill="#0cc877" stroke="#1b4a30" stroke-width="1.25"/>
<line x1="1023.7" y1="173.0" x2="1023.7" y2="208.0" stroke="#55dda0" stroke-width="1.8"/>
<rect x="1021.1" y="173.0" width="5.2" height="25.1" fill="#0cc877" stroke="#1b4a30" stroke-width="1.25"/>
<line x1="1032.7" y1="157.3" x2="1032.7" y2="177.7" stroke="#ff9898" stroke-width="1.8"/>
<rect x="1030.1" y="173.0" width="5.2" height="1.5" fill="#f5655b" stroke="#6e2828" stroke-width="1.25"/>
<line x1="1041.8" y1="162.2" x2="1041.8" y2="197.7" stroke="#ff9898" stroke-width="1.8"/>
<rect x="1039.2" y="175.5" width="5.2" height="20.3" fill="#f5655b" stroke="#6e2828" stroke-width="1.25"/>
<line x1="1050.8" y1="184.4" x2="1050.8" y2="220.6" stroke="#ff9898" stroke-width="1.8"/>
<rect x="1048.2" y="195.8" width="5.2" height="3.4" fill="#f5655b" stroke="#6e2828" stroke-width="1.25"/>
<line x1="1059.9" y1="159.7" x2="1059.9" y2="201.1" stroke="#55dda0" stroke-width="1.8"/>
<rect x="1057.3" y="195.8" width="5.2" height="3.4" fill="#0cc877" stroke="#1b4a30" stroke-width="1.25"/>
<line x1="1068.9" y1="173.3" x2="1068.9" y2="202.9" stroke="#ff9898" stroke-width="1.8"/>
<rect x="1066.3" y="195.8" width="5.2" height="3.4" fill="#f5655b" stroke="#6e2828" stroke-width="1.25"/>
<line x1="1077.9" y1="174.5" x2="1077.9" y2="199.6" stroke="#55dda0" stroke-width="1.8"/>
<rect x="1075.3" y="179.5" width="5.2" height="20.1" fill="#0cc877" stroke="#1b4a30" stroke-width="1.25"/>
<line x1="1087.0" y1="151.8" x2="1087.0" y2="184.4" stroke="#55dda0" stroke-width="1.8"/>
<rect x="1084.4" y="151.8" width="5.2" height="27.7" fill="#0cc877" stroke="#1b4a30" stroke-width="1.25"/>
<line x1="1096.0" y1="148.9" x2="1096.0" y2="164.1" stroke="#ff9898" stroke-width="1.8"/>
<rect x="1093.4" y="151.8" width="5.2" height="2.5" fill="#f5655b" stroke="#6e2828" stroke-width="1.25"/>
<line x1="1105.1" y1="149.6" x2="1105.1" y2="176.2" stroke="#ff9898" stroke-width="1.8"/>
<rect x="1102.5" y="153.3" width="5.2" height="21.2" fill="#f5655b" stroke="#6e2828" stroke-width="1.25"/>
<line x1="1114.1" y1="173.6" x2="1114.1" y2="190.3" stroke="#ff9898" stroke-width="1.8"/>
<rect x="1111.5" y="175.5" width="5.2" height="13.8" fill="#f5655b" stroke="#6e2828" stroke-width="1.25"/>
<line x1="1123.1" y1="171.3" x2="1123.1" y2="194.6" stroke="#ff9898" stroke-width="1.8"/>
<rect x="1120.5" y="188.1" width="5.2" height="1.5" fill="#f5655b" stroke="#6e2828" stroke-width="1.25"/>
<line x1="1132.2" y1="182.4" x2="1132.2" y2="201.6" stroke="#ff9898" stroke-width="1.8"/>
<rect x="1129.6" y="189.4" width="5.2" height="5.2" fill="#f5655b" stroke="#6e2828" stroke-width="1.25"/>
<line x1="1141.2" y1="187.6" x2="1141.2" y2="223.9" stroke="#ff9898" stroke-width="1.8"/>
<rect x="1138.6" y="195.4" width="5.2" height="28.5" fill="#f5655b" stroke="#6e2828" stroke-width="1.25"/>
<line x1="1150.3" y1="223.1" x2="1150.3" y2="287.8" stroke="#ff9898" stroke-width="1.8"/>
<rect x="1147.7" y="223.1" width="5.2" height="18.9" fill="#f5655b" stroke="#6e2828" stroke-width="1.25"/>
<line x1="1159.3" y1="242.0" x2="1159.3" y2="260.6" stroke="#ff9898" stroke-width="1.8"/>
<rect x="1156.7" y="242.0" width="5.2" height="7.0" fill="#f5655b" stroke="#6e2828" stroke-width="1.25"/>
<line x1="1168.3" y1="246.4" x2="1168.3" y2="265.8" stroke="#ff9898" stroke-width="1.8"/>
<rect x="1165.7" y="247.7" width="5.2" height="6.5" fill="#f5655b" stroke="#6e2828" stroke-width="1.25"/>
<line x1="1177.4" y1="234.2" x2="1177.4" y2="255.4" stroke="#55dda0" stroke-width="1.8"/>
<rect x="1174.8" y="251.6" width="5.2" height="3.8" fill="#0cc877" stroke="#1b4a30" stroke-width="1.25"/>
<line x1="1186.4" y1="237.8" x2="1186.4" y2="278.2" stroke="#ff9898" stroke-width="1.8"/>
<rect x="1183.8" y="251.6" width="5.2" height="26.6" fill="#f5655b" stroke="#6e2828" stroke-width="1.25"/>
<line x1="1195.5" y1="276.2" x2="1195.5" y2="369.4" stroke="#ff9898" stroke-width="1.8"/>
<rect x="1192.9" y="278.2" width="5.2" height="56.2" fill="#f5655b" stroke="#6e2828" stroke-width="1.25"/>
<line x1="1204.5" y1="320.7" x2="1204.5" y2="346.0" stroke="#55dda0" stroke-width="1.8"/>
<rect x="1201.9" y="329.2" width="5.2" height="5.2" fill="#0cc877" stroke="#1b4a30" stroke-width="1.25"/>
<line x1="1213.5" y1="324.8" x2="1213.5" y2="356.4" stroke="#ff9898" stroke-width="1.8"/>
<rect x="1210.9" y="329.2" width="5.2" height="18.9" fill="#f5655b" stroke="#6e2828" stroke-width="1.25"/>
<line x1="1222.6" y1="316.3" x2="1222.6" y2="351.3" stroke="#55dda0" stroke-width="1.8"/>
<rect x="1220.0" y="331.8" width="5.2" height="16.3" fill="#0cc877" stroke="#1b4a30" stroke-width="1.25"/>
<line x1="1231.6" y1="323.3" x2="1231.6" y2="353.3" stroke="#ff9898" stroke-width="1.8"/>
<rect x="1229.0" y="331.0" width="5.2" height="1.6" fill="#f5655b" stroke="#6e2828" stroke-width="1.25"/>
<line x1="1240.7" y1="298.0" x2="1240.7" y2="333.0" stroke="#55dda0" stroke-width="1.8"/>
<rect x="1238.1" y="313.3" width="5.2" height="18.8" fill="#0cc877" stroke="#1b4a30" stroke-width="1.25"/>
<line x1="1249.7" y1="294.5" x2="1249.7" y2="333.0" stroke="#55dda0" stroke-width="1.8"/>
<rect x="1247.1" y="306.6" width="5.2" height="7.7" fill="#0cc877" stroke="#1b4a30" stroke-width="1.25"/>
<line x1="1258.7" y1="302.9" x2="1258.7" y2="315.5" stroke="#ff9898" stroke-width="1.8"/>
<rect x="1256.1" y="306.6" width="5.2" height="1.8" fill="#f5655b" stroke="#6e2828" stroke-width="1.25"/>
<line x1="1267.8" y1="290.7" x2="1267.8" y2="313.3" stroke="#55dda0" stroke-width="1.8"/>
<rect x="1265.2" y="296.6" width="5.2" height="11.8" fill="#0cc877" stroke="#1b4a30" stroke-width="1.25"/>
<line x1="1276.8" y1="289.2" x2="1276.8" y2="331.8" stroke="#ff9898" stroke-width="1.8"/>
<rect x="1274.2" y="296.6" width="5.2" height="27.8" fill="#f5655b" stroke="#6e2828" stroke-width="1.25"/>
<line x1="1285.9" y1="320.7" x2="1285.9" y2="345.9" stroke="#ff9898" stroke-width="1.8"/>
<rect x="1283.3" y="324.1" width="5.2" height="21.8" fill="#f5655b" stroke="#6e2828" stroke-width="1.25"/>
<line x1="1294.9" y1="334.5" x2="1294.9" y2="345.9" stroke="#55dda0" stroke-width="1.8"/>
<rect x="1292.3" y="340.4" width="5.2" height="5.5" fill="#0cc877" stroke="#1b4a30" stroke-width="1.25"/>
<line x1="1303.9" y1="321.7" x2="1303.9" y2="358.1" stroke="#55dda0" stroke-width="1.8"/>
<rect x="1301.3" y="321.7" width="5.2" height="19.0" fill="#0cc877" stroke="#1b4a30" stroke-width="1.25"/>
<line x1="1313.0" y1="311.8" x2="1313.0" y2="348.1" stroke="#ff9898" stroke-width="1.8"/>
<rect x="1310.4" y="321.7" width="5.2" height="26.4" fill="#f5655b" stroke="#6e2828" stroke-width="1.25"/>
<line x1="1322.0" y1="342.2" x2="1322.0" y2="361.7" stroke="#ff9898" stroke-width="1.8"/>
<rect x="1319.4" y="346.6" width="5.2" height="8.1" fill="#f5655b" stroke="#6e2828" stroke-width="1.25"/>
<line x1="1331.1" y1="337.0" x2="1331.1" y2="358.1" stroke="#55dda0" stroke-width="1.8"/>
<rect x="1328.5" y="351.8" width="5.2" height="2.5" fill="#0cc877" stroke="#1b4a30" stroke-width="1.25"/>
<line x1="1340.1" y1="335.9" x2="1340.1" y2="352.2" stroke="#55dda0" stroke-width="1.8"/>
<rect x="1337.5" y="346.6" width="5.2" height="5.6" fill="#0cc877" stroke="#1b4a30" stroke-width="1.25"/>
<line x1="1349.1" y1="342.2" x2="1349.1" y2="361.7" stroke="#ff9898" stroke-width="1.8"/>
<rect x="1346.5" y="346.6" width="5.2" height="1.5" fill="#f5655b" stroke="#6e2828" stroke-width="1.25"/>
<line x1="1358.2" y1="345.1" x2="1358.2" y2="355.8" stroke="#55dda0" stroke-width="1.8"/>
<rect x="1355.6" y="345.1" width="5.2" height="2.2" fill="#0cc877" stroke="#1b4a30" stroke-width="1.25"/>
<line x1="1367.2" y1="329.6" x2="1367.2" y2="347.3" stroke="#55dda0" stroke-width="1.8"/>
<rect x="1364.6" y="334.5" width="5.2" height="10.9" fill="#0cc877" stroke="#1b4a30" stroke-width="1.25"/>
<line x1="1376.3" y1="324.4" x2="1376.3" y2="340.5" stroke="#55dda0" stroke-width="1.8"/>
<rect x="1373.7" y="330.3" width="5.2" height="3.0" fill="#0cc877" stroke="#1b4a30" stroke-width="1.25"/>
<line x1="1385.3" y1="329.4" x2="1385.3" y2="393.2" stroke="#ff9898" stroke-width="1.8"/>
<rect x="1382.7" y="330.3" width="5.2" height="55.2" fill="#f5655b" stroke="#6e2828" stroke-width="1.25"/>
<line x1="1394.3" y1="376.0" x2="1394.3" y2="392.7" stroke="#ff9898" stroke-width="1.8"/>
<rect x="1391.7" y="384.9" width="5.2" height="1.7" fill="#f5655b" stroke="#6e2828" stroke-width="1.25"/>
<line x1="1403.4" y1="382.1" x2="1403.4" y2="398.2" stroke="#55dda0" stroke-width="1.8"/>
<rect x="1400.8" y="384.4" width="5.2" height="2.7" fill="#0cc877" stroke="#1b4a30" stroke-width="1.25"/>
<line x1="1412.4" y1="373.3" x2="1412.4" y2="390.5" stroke="#55dda0" stroke-width="1.8"/>
<rect x="1409.8" y="375.5" width="5.2" height="8.9" fill="#0cc877" stroke="#1b4a30" stroke-width="1.25"/>
<line x1="1421.5" y1="372.2" x2="1421.5" y2="376.6" stroke="#ff9898" stroke-width="1.8"/>
<rect x="1418.9" y="374.6" width="5.2" height="2.0" fill="#f5655b" stroke="#6e2828" stroke-width="1.25"/>
<line x1="1430.5" y1="359.4" x2="1430.5" y2="383.3" stroke="#ff9898" stroke-width="1.8"/>
<rect x="1427.9" y="375.5" width="5.2" height="1.5" fill="#f5655b" stroke="#6e2828" stroke-width="1.25"/>
<line x1="1439.5" y1="378.0" x2="1439.5" y2="386.6" stroke="#55dda0" stroke-width="1.8"/>
<rect x="1436.9" y="378.0" width="5.2" height="1.5" fill="#0cc877" stroke="#1b4a30" stroke-width="1.25"/>
</g>
<line x1="25" y1="62" x2="1786.5" y2="62" stroke="#f5a623" stroke-width="4" />
<line x1="25" y1="146.8" x2="1786.5" y2="146.8" stroke="#f5a623" stroke-width="3.8" />
<line x1="25" y1="349.6" x2="1786.5" y2="349.6" stroke="#f5a623" stroke-width="3.8" />
<line x1="25" y1="450.8" x2="1786.5" y2="450.8" stroke="#f5a623" stroke-width="3.7" />
<line x1="25" y1="454.4" x2="1786.5" y2="454.4" stroke="#f8e425" stroke-width="3.4" />
<line x1="25" y1="494.6" x2="1786.5" y2="494.6" stroke="#f5a623" stroke-width="3.9" />
<line x1="25" y1="394.5" x2="1786.5" y2="394.5" stroke="#f8e425" stroke-width="3" />
<rect x="25" y="377" width="1761.5" height="5" fill="#3b7504"/>
<line x1="25" y1="379.6" x2="1786.5" y2="379.6" stroke="#f06262" stroke-width="1.4" stroke-dasharray="7.5 2.5" stroke-dashoffset="-1.3"/>
<circle cx="418.4" cy="448" r="59.5" fill="rgba(190,165,215,0.5)" stroke="#8e5a5e" stroke-width="1.3"/>
<rect x="408" y="627" width="227" height="29.5" fill="#dde4f0"/>
<line x1="408.3" y1="627" x2="408.3" y2="656.5" stroke="#d86ac4" stroke-width="1.3"/>
<line x1="634.8" y1="627" x2="634.8" y2="656.5" stroke="#d86ac4" stroke-width="1.3"/>
<rect x="426" y="632.5" width="191" height="44" fill="#5b84be" stroke="#da6fc8" stroke-width="1.6" stroke-dasharray="5 3"/>
<line x1="408.3" y1="641.7" x2="634" y2="641.7" stroke="#d86ac4" stroke-width="1.6" stroke-dasharray="4.8 2.8"/>
<polyline points="623,636 633.5,641.7 623,647.5" fill="none" stroke="#d86ac4" stroke-width="1.3" stroke-dasharray="4 3"/>
<text x="439.2" y="660.6" font-size="15" fill="#ffffff" textLength="165.3" lengthAdjust="spacingAndGlyphs">25 bars,  distance: 25</text>
<line x1="25" y1="769.5" x2="1786.5" y2="769.5" stroke="#a9afb8" stroke-width="1.5"/>
<line x1="1786.5" y1="3" x2="1786.5" y2="770" stroke="#a9afb8" stroke-width="1.2"/>
<defs><clipPath id="yc"><rect x="1780" y="3" width="68" height="800"/></clipPath></defs>
<g font-size="14" fill="#3a3f48" clip-path="url(#yc)">
<line x1="1786.5" y1="6.6" x2="1791.5" y2="6.6" stroke="#a9afb8" stroke-width="1"/>
<text x="1795.5" y="11.6">90000</text>
<line x1="1786.5" y1="19.3" x2="1791.5" y2="19.3" stroke="#a9afb8" stroke-width="1"/>
<text x="1795.5" y="24.3">85000</text>
<line x1="1786.5" y1="32.7" x2="1791.5" y2="32.7" stroke="#a9afb8" stroke-width="1"/>
<text x="1795.5" y="37.7">80000</text>
<line x1="1786.5" y1="47.1" x2="1791.5" y2="47.1" stroke="#a9afb8" stroke-width="1"/>
<text x="1795.5" y="52.1">75000</text>
<line x1="1786.5" y1="62.4" x2="1791.5" y2="62.4" stroke="#a9afb8" stroke-width="1"/>
<text x="1795.5" y="67.4">70000</text>
<line x1="1786.5" y1="78.9" x2="1791.5" y2="78.9" stroke="#a9afb8" stroke-width="1"/>
<text x="1795.5" y="83.9">65000</text>
<line x1="1786.5" y1="96.6" x2="1791.5" y2="96.6" stroke="#a9afb8" stroke-width="1"/>
<text x="1795.5" y="101.6">60000</text>
<line x1="1786.5" y1="116.0" x2="1791.5" y2="116.0" stroke="#a9afb8" stroke-width="1"/>
<text x="1795.5" y="121.0">55000</text>
<line x1="1786.5" y1="137.2" x2="1791.5" y2="137.2" stroke="#a9afb8" stroke-width="1"/>
<text x="1795.5" y="142.2">50000</text>
<line x1="1786.5" y1="160.6" x2="1791.5" y2="160.6" stroke="#a9afb8" stroke-width="1"/>
<text x="1795.5" y="165.6">45000</text>
<line x1="1786.5" y1="186.7" x2="1791.5" y2="186.7" stroke="#a9afb8" stroke-width="1"/>
<text x="1795.5" y="191.7">40000</text>
<line x1="1786.5" y1="216.4" x2="1791.5" y2="216.4" stroke="#a9afb8" stroke-width="1"/>
<text x="1795.5" y="221.4">35000</text>
<line x1="1786.5" y1="250.6" x2="1791.5" y2="250.6" stroke="#a9afb8" stroke-width="1"/>
<text x="1795.5" y="255.6">30000</text>
<line x1="1786.5" y1="291.1" x2="1791.5" y2="291.1" stroke="#a9afb8" stroke-width="1"/>
<text x="1795.5" y="296.1">25000</text>
<line x1="1786.5" y1="340.7" x2="1791.5" y2="340.7" stroke="#a9afb8" stroke-width="1"/>
<text x="1795.5" y="345.7">20000</text>
<line x1="1786.5" y1="404.6" x2="1791.5" y2="404.6" stroke="#a9afb8" stroke-width="1"/>
<text x="1795.5" y="409.6">15000</text>
<line x1="1786.5" y1="494.7" x2="1791.5" y2="494.7" stroke="#a9afb8" stroke-width="1"/>
<text x="1795.5" y="499.7">10000</text>
<line x1="1786.5" y1="648.7" x2="1791.5" y2="648.7" stroke="#a9afb8" stroke-width="1"/>
<text x="1795.5" y="653.7">5000</text>
</g>
<g font-size="14" fill="#3a3f48" text-anchor="middle">
<line x1="47" y1="769" x2="47" y2="774.5" stroke="#c3c7ce" stroke-width="1"/>
<text x="47" y="788">2020</text>
<line x1="164.3" y1="769" x2="164.3" y2="774.5" stroke="#c3c7ce" stroke-width="1"/>
<text x="164.3" y="788">Apr 2020</text>
<line x1="282" y1="769" x2="282" y2="774.5" stroke="#c3c7ce" stroke-width="1"/>
<text x="282" y="788">Jul 2020</text>
<line x1="399.6" y1="769" x2="399.6" y2="774.5" stroke="#c3c7ce" stroke-width="1"/>
<text x="399.6" y="788">Oct 2020</text>
<line x1="517.1" y1="769" x2="517.1" y2="774.5" stroke="#c3c7ce" stroke-width="1"/>
<text x="517.1" y="788">2021</text>
<line x1="634.7" y1="769" x2="634.7" y2="774.5" stroke="#c3c7ce" stroke-width="1"/>
<text x="634.7" y="788">Apr 2021</text>
<line x1="752.4" y1="769" x2="752.4" y2="774.5" stroke="#c3c7ce" stroke-width="1"/>
<text x="752.4" y="788">Jul 2021</text>
<line x1="869.9" y1="769" x2="869.9" y2="774.5" stroke="#c3c7ce" stroke-width="1"/>
<text x="869.9" y="788">Oct 2021</text>
<line x1="987.2" y1="769" x2="987.2" y2="774.5" stroke="#c3c7ce" stroke-width="1"/>
<text x="987.2" y="788">2022</text>
<line x1="1104.8" y1="769" x2="1104.8" y2="774.5" stroke="#c3c7ce" stroke-width="1"/>
<text x="1104.8" y="788">Apr 2022</text>
<line x1="1222.4" y1="769" x2="1222.4" y2="774.5" stroke="#c3c7ce" stroke-width="1"/>
<text x="1222.4" y="788">Jul 2022</text>
<line x1="1339.8" y1="769" x2="1339.8" y2="774.5" stroke="#c3c7ce" stroke-width="1"/>
<text x="1339.8" y="788">Oct 2022</text>
<line x1="1457.5" y1="769" x2="1457.5" y2="774.5" stroke="#c3c7ce" stroke-width="1"/>
<text x="1457.5" y="788">2023</text>
<line x1="1575.3" y1="769" x2="1575.3" y2="774.5" stroke="#c3c7ce" stroke-width="1"/>
<text x="1575.3" y="788">Apr 2023</text>
<line x1="1692.9" y1="769" x2="1692.9" y2="774.5" stroke="#c3c7ce" stroke-width="1"/>
<text x="1692.9" y="788">Jul 2023</text>
</g>
<path d="M1787.3 38.1 L1796.3 29.0 L1796.3 25.5 L1844 25.5 L1844 50.7 L1796.3 50.7 L1796.3 47.2 Z" fill="#f5a623"/>
<text x="1800.4" y="43.6" font-size="14.8" fill="#fff" textLength="39" lengthAdjust="spacingAndGlyphs">70000</text>
<path d="M1787.3 123.4 L1796.3 114.30000000000001 L1796.3 110.80000000000001 L1844 110.80000000000001 L1844 136.0 L1796.3 136.0 L1796.3 132.5 Z" fill="#f5a623"/>
<text x="1800.4" y="128.9" font-size="14.8" fill="#fff" textLength="39" lengthAdjust="spacingAndGlyphs">48000</text>
<path d="M1787.3 325.7 L1796.3 316.59999999999997 L1796.3 313.09999999999997 L1844 313.09999999999997 L1844 338.3 L1796.3 338.3 L1796.3 334.8 Z" fill="#f5a623"/>
<text x="1800.4" y="331.2" font-size="14.8" fill="#fff" textLength="39" lengthAdjust="spacingAndGlyphs">19260</text>
<path d="M1787.3 354.3 L1796.3 345.2 L1796.3 341.7 L1844 341.7 L1844 366.90000000000003 L1796.3 366.90000000000003 L1796.3 363.40000000000003 Z" fill="#3a7400"/>
<text x="1800.4" y="359.8" font-size="14.8" fill="#fff" textLength="39" lengthAdjust="spacingAndGlyphs">16903</text>
<path d="M1787.3 379.6 L1796.3 370.5 L1796.3 367.0 L1844 367.0 L1844 392.20000000000005 L1796.3 392.20000000000005 L1796.3 388.70000000000005 Z" fill="#f76a6a"/>
<text x="1800.4" y="385.1" font-size="14.8" fill="#fff" textLength="39" lengthAdjust="spacingAndGlyphs">16817</text>
<path d="M1787.3 404.6 L1796.3 395.5 L1796.3 392.0 L1844 392.0 L1844 417.20000000000005 L1796.3 417.20000000000005 L1796.3 413.70000000000005 Z" fill="#3a7400"/>
<text x="1800.4" y="410.1" font-size="14.8" fill="#fff" textLength="39" lengthAdjust="spacingAndGlyphs">16761</text>
<path d="M1787.3 429.8 L1796.3 420.7 L1796.3 417.2 L1844 417.2 L1844 442.40000000000003 L1796.3 442.40000000000003 L1796.3 438.90000000000003 Z" fill="#f8e425"/>
<text x="1800.4" y="435.3" font-size="14.8" fill="#222" textLength="39" lengthAdjust="spacingAndGlyphs">15696</text>
<path d="M1787.3 479.6 L1796.3 470.5 L1796.3 467.0 L1844 467.0 L1844 492.20000000000005 L1796.3 492.20000000000005 L1796.3 488.70000000000005 Z" fill="#f5a623"/>
<text x="1800.4" y="485.1" font-size="14.8" fill="#fff" textLength="39" lengthAdjust="spacingAndGlyphs">12211</text>
<path d="M1787.3 504.6 L1796.3 495.5 L1796.3 492.0 L1844 492.0 L1844 517.2 L1796.3 517.2 L1796.3 513.7 Z" fill="#f8e425"/>
<text x="1800.4" y="510.1" font-size="14.8" fill="#222" textLength="39" lengthAdjust="spacingAndGlyphs">12000</text>
<path d="M1787.3 554.6 L1796.3 545.5 L1796.3 542.0 L1844 542.0 L1844 567.2 L1796.3 567.2 L1796.3 563.7 Z" fill="#f5a623"/>
<text x="1800.4" y="560.1" font-size="14.8" fill="#fff" textLength="39" lengthAdjust="spacingAndGlyphs">10000</text>
<g>
<defs><clipPath id="lc"><circle cx="69" cy="19.9" r="11"/></clipPath></defs>
<circle cx="69" cy="19.9" r="11" fill="#1b2a5e"/>
<g clip-path="url(#lc)">
<polygon points="65.30,12.10 66.23,14.33 68.63,14.52 66.80,16.09 67.36,18.43 65.30,17.18 63.24,18.43 63.80,16.09 61.97,14.52 64.37,14.33" fill="#ffffff"/>
<polygon points="72.80,18.40 73.73,20.63 76.13,20.82 74.30,22.39 74.86,24.73 72.80,23.47 70.74,24.73 71.30,22.39 69.47,20.82 71.87,20.63" fill="#ffffff"/>
<polygon points="65.40,24.70 66.33,26.93 68.73,27.12 66.90,28.69 67.46,31.03 65.40,29.77 63.34,31.03 63.90,28.69 62.07,27.12 64.47,26.93" fill="#ffffff"/>
</g>
<path d="M62.4 39.8 Q68.6 38.2 71.4 31.6 Q66.2 36.2 62.4 39.8 Z" fill="#f59a1e" stroke="#f59a1e" stroke-width="0.8"/>
</g>
<text x="89.5" y="36.7" font-size="23.5" fill="#343843" textLength="164.5" lengthAdjust="spacingAndGlyphs">BTCUSD (1W):</text>
<text x="271" y="36.7" font-size="24.5" fill="#1a7cf0" textLength="68.5" lengthAdjust="spacingAndGlyphs">16817</text>
<text x="341.8" y="25" font-size="13" fill="#1a7cf0" textLength="19" lengthAdjust="spacingAndGlyphs">.00</text>
<circle cx="40.6" cy="61.1" r="2.8" fill="#2ad8c8"/>
<text x="44.9" y="74.9" font-size="14.5" fill="#2ad8c8" textLength="119.3" lengthAdjust="spacingAndGlyphs">BITSTAMP Open</text>
<circle cx="1067.3" cy="25" r="18.7" fill="#3b43a0"/>
<polyline points="1054,32.4 1062.8,23 1069.2,31 1081.4,19.3" fill="none" stroke="#ffffff" stroke-width="1.8"/>
<polyline points="1075.8,19.3 1081.6,19 1081.6,24.8" fill="none" stroke="#ffffff" stroke-width="1.8"/>
<text x="1093" y="29.4" font-size="16" fill="#1e2226" textLength="546.5" lengthAdjust="spacingAndGlyphs">Charts powered by GoCharting.com - Created by  on Mon Dec 26 2022</text>
</svg></body></html>
